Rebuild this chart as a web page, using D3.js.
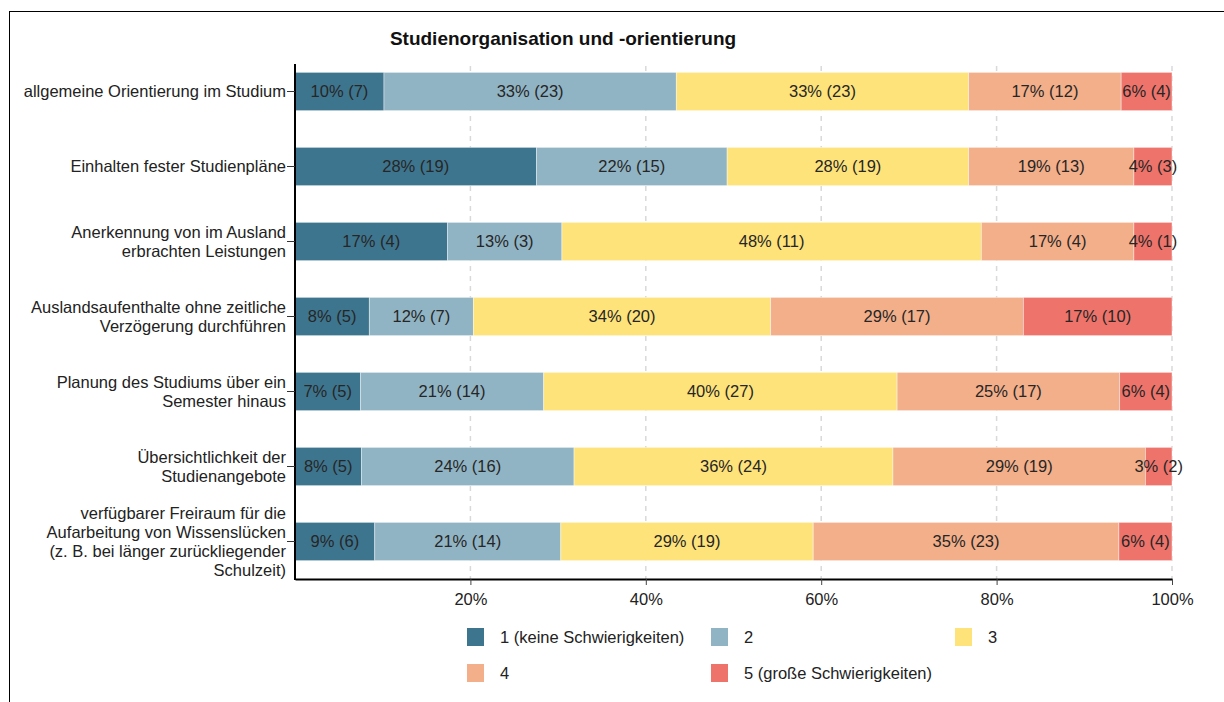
<!DOCTYPE html>
<meta charset="utf-8">
<script src="https://cdn.jsdelivr.net/npm/d3@7"></script>
<style>
  body { margin: 0; background: #fff; }
  svg { font-family: "Liberation Sans", Arial, sans-serif; }
</style>
<svg id="graph" width="1224" height="702"></svg>
<script>

// items (one entry per bar, lines split for the axis labels)
var items = [
  ["allgemeine Orientierung im Studium"],
  ["Einhalten fester Studienpläne"],
  ["Anerkennung von im Ausland", "erbrachten Leistungen"],
  ["Auslandsaufenthalte ohne zeitliche", "Verzögerung durchführen"],
  ["Planung des Studiums über ein", "Semester hinaus"],
  ["Übersichtlichkeit der", "Studienangebote"],
  ["verfügbarer Freiraum für die", "Aufarbeitung von Wissenslücken", "(z. B. bei länger zurückliegender", "Schulzeit)"]
];

var categories = ["1 (keine Schwierigkeiten)", "2", "3", "4", "5 (große Schwierigkeiten)"];
var colors = ["#3e758e", "#91b4c4", "#fee37b", "#f2af8a", "#ee746b"];

// answer counts per item, in category order
var counts1 = [7, 19, 4, 5, 5, 5, 6];
var counts2 = [23, 15, 3, 7, 14, 16, 14];
var counts3 = [23, 19, 11, 20, 27, 24, 19];
var counts4 = [12, 13, 4, 17, 17, 19, 23];
var counts5 = [4, 3, 1, 10, 4, 2, 4];

var xTicks = [0.2, 0.4, 0.6, 0.8, 1.0];

var svg = d3.select("#graph");

// frame
svg.append("rect")
    .attr("x", 9.5).attr("y", 11.5)
    .attr("width", 1240).attr("height", 720)
    .attr("fill", "none").attr("stroke", "#000").attr("stroke-width", 1);

var plotLeft = 295, plotRight = 1172, plotTop = 54, plotBottom = 579;

var x = d3.scaleLinear().domain([0, 1]).range([plotLeft, plotRight]);
var y = d3.scaleBand().domain(d3.range(items.length)).range([plotTop, plotBottom]).paddingInner(0.49).paddingOuter(0.245);

var allCounts = [counts1, counts2, counts3, counts4, counts5];

var rows = items.map(function(lbl, i) {
  var vals = allCounts.map(function(c) { return c[i]; });
  var total = d3.sum(vals), acc = 0;
  return vals.map(function(v, k) {
    var seg = {row: i, cat: k, n: v, x0: acc / total, x1: (acc + v) / total, pct: Math.round(v / total * 100)};
    acc += v;
    return seg;
  });
});

// grid
svg.append("g").selectAll("line")
    .data(xTicks)
    .enter().append("line")
    .attr("x1", function(d) { return x(d); })
    .attr("x2", function(d) { return x(d); })
    .attr("y1", 66).attr("y2", plotBottom)
    .attr("stroke", "#d9d9d9").attr("stroke-width", 1.5)
    .attr("stroke-dasharray", "5,5");

// bars
var seg = svg.append("g").selectAll("g")
    .data(rows)
    .enter().append("g")
    .selectAll("g")
    .data(function(d) { return d; })
    .enter().append("g");

seg.append("rect")
    .attr("x", function(d) { return x(d.x0); })
    .attr("y", function(d) { return y(d.row); })
    .attr("width", function(d) { return x(d.x1) - x(d.x0); })
    .attr("height", y.bandwidth())
    .attr("fill", function(d) { return colors[d.cat]; })
    .attr("stroke", "rgba(255,255,255,0.5)").attr("stroke-width", 0.8);

seg.append("text")
    .attr("x", function(d) { return (x(d.x0) + x(d.x1)) / 2; })
    .attr("y", function(d) { return y(d.row) + y.bandwidth() / 2; })
    .attr("dy", "0.36em")
    .attr("text-anchor", "middle")
    .attr("font-size", 16.5)
    .attr("fill", "#262626")
    .text(function(d) { return d.pct + "% (" + d.n + ")"; });

// x axis
var xAxis = svg.append("g")
    .attr("transform", "translate(0," + plotBottom + ")")
    .call(d3.axisBottom(x).tickValues(xTicks).tickFormat(d3.format(".0%")).tickSize(6).tickSizeOuter(0));
xAxis.select(".domain").attr("stroke", "#000").attr("stroke-width", 2);
xAxis.selectAll(".tick line").attr("stroke", "#444");
xAxis.selectAll("text").attr("font-size", 16.5).attr("fill", "#222").attr("font-family", "Liberation Sans, Arial, sans-serif").attr("dy", "1.05em");

// y axis
svg.append("line")
    .attr("x1", plotLeft).attr("x2", plotLeft).attr("y1", 64).attr("y2", plotBottom + 1)
    .attr("stroke", "#000").attr("stroke-width", 2);

var yl = svg.append("g").selectAll("g")
    .data(items)
    .enter().append("g")
    .attr("transform", function(d, i) { return "translate(0," + (y(i) + y.bandwidth() / 2) + ")"; });

yl.append("line")
    .attr("x1", plotLeft - 8).attr("x2", plotLeft)
    .attr("stroke", "#333");

yl.append("text")
    .attr("text-anchor", "end")
    .attr("font-size", 16.5)
    .attr("fill", "#222")
    .selectAll("tspan")
    .data(function(d) { return d; })
    .enter().append("tspan")
    .attr("x", plotLeft - 9)
    .attr("y", function(d, k, arr) { return (k - (arr.length - 1) / 2) * 19; })
    .attr("dy", "0.36em")
    .text(function(d) { return d; });

// title
svg.append("text")
    .attr("x", 563).attr("y", 45)
    .attr("text-anchor", "middle")
    .attr("font-size", 19).attr("font-weight", "bold")
    .attr("fill", "#111")
    .text("Studienorganisation und -orientierung");

// legend
var legend = svg.append("g").selectAll("g")
    .data(categories)
    .enter().append("g")
    .attr("transform", function(d, i) { return "translate(" + (467 + (i % 3) * 244) + "," + (628 + Math.floor(i / 3) * 36) + ")"; });

legend.append("rect")
    .attr("width", 17).attr("height", 18)
    .attr("fill", function(d, i) { return colors[i]; });

legend.append("text")
    .attr("x", 33).attr("y", 9).attr("dy", "0.36em")
    .attr("font-size", 16.5).attr("fill", "#222")
    .text(function(d) { return d; });

</script>
